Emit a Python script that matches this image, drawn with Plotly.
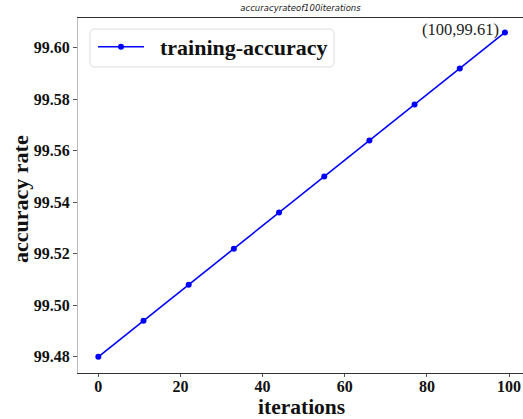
import plotly.graph_objects as go

# training accuracy sampled every 11 iterations
iterations = [0, 11, 22, 33, 44, 55, 66, 77, 88, 99]
accuracy = [99.480, 99.494, 99.508, 99.522, 99.536, 99.550, 99.564, 99.578, 99.592, 99.606]
y_ticks = [99.48, 99.50, 99.52, 99.54, 99.56, 99.58, 99.60]
x_ticks = [0, 20, 40, 60, 80, 100]

serif = "Liberation Serif, Times New Roman, serif"

W, H = 523, 419
ML, MR, MT, MB = 78, 0, 18, 46
PW, PH = W - ML - MR, H - MT - MB


def px_x(p):
    return (p - ML) / PW


def px_y(p):
    return (H - MB - p) / PH


fig = go.Figure()
fig.add_trace(go.Scatter(
    x=iterations, y=accuracy, mode="lines+markers",
    name="&nbsp;&nbsp;<b>training-accuracy</b>",
    line=dict(color="#0000ff", width=1.6),
    marker=dict(color="#0000ff", size=6),
))

last_x, last_y = iterations[-1], accuracy[-1]
fig.add_annotation(
    x=last_x, y=last_y, xref="x", yref="y",
    text="(100,99.61)", showarrow=False,
    xanchor="right", yanchor="middle", xshift=-4, yshift=3,
    font=dict(family=serif, size=16.5, color="#222222"),
)

# axis titles
fig.add_annotation(
    x=px_x(301), y=px_y(406.5), xref="paper", yref="paper",
    text="<b>iterations</b>", showarrow=False,
    xanchor="center", yanchor="middle",
    font=dict(family=serif, size=21.5, color="#111111"),
)
fig.add_annotation(
    x=px_x(20), y=px_y(199), xref="paper", yref="paper",
    text="<b>accuracy rate</b>", showarrow=False, textangle=-90,
    xanchor="center", yanchor="middle",
    font=dict(family=serif, size=22, color="#111111"),
)

# rounded legend frame
x0, x1 = px_x(90), px_x(334)
y0, y1 = px_y(67), px_y(29)
rx, ry = 5 / PW, 5 / PH
frame = (
    f"M {x0 + rx},{y0} L {x1 - rx},{y0} Q {x1},{y0} {x1},{y0 + ry} "
    f"L {x1},{y1 - ry} Q {x1},{y1} {x1 - rx},{y1} "
    f"L {x0 + rx},{y1} Q {x0},{y1} {x0},{y1 - ry} "
    f"L {x0},{y0 + ry} Q {x0},{y0} {x0 + rx},{y0} Z"
)
fig.add_shape(type="path", path=frame, xref="paper", yref="paper",
              line=dict(color="#dddddd", width=1), fillcolor="white", layer="below")

fig.update_layout(
    width=W, height=H,
    margin=dict(l=ML, r=MR, t=MT, b=MB),
    paper_bgcolor="white", plot_bgcolor="white",
    title=dict(
        text="accuracyrateof100iterations",
        x=0.5, xref="paper", xanchor="center",
        y=1 - 8 / H, yref="container", yanchor="middle",
        font=dict(family="DejaVu Sans, sans-serif", size=8.5, color="#222222", style="italic"),
    ),
    showlegend=True,
    legend=dict(
        x=px_x(93), y=px_y(26), xanchor="left", yanchor="top",
        bgcolor="rgba(0,0,0,0)", borderwidth=0,
        font=dict(family=serif, size=22, color="#111111"),
        itemwidth=46,
    ),
)

fig.update_xaxes(
    range=[-4.95, 103.4], tickvals=x_ticks,
    ticktext=[f"<b>{v}</b>" for v in x_ticks],
    tickfont=dict(family=serif, size=16, color="#111111"),
    showgrid=False, zeroline=False,
    showline=True, linecolor="#333333", linewidth=1.2, mirror=True,
    ticks="outside", ticklen=3, tickcolor="#555555",
    ticklabelstandoff=-4,
)
fig.update_yaxes(
    range=[99.4737, 99.6116], tickvals=y_ticks,
    ticktext=[f"<b>{v:.2f}</b>" for v in y_ticks],
    tickfont=dict(family=serif, size=16, color="#111111"),
    showgrid=False, zeroline=False,
    showline=True, linecolor="#bbbbbb", linewidth=1.2,
    ticks="outside", ticklen=4, tickcolor="#555555",
)

fig.write_html("out.html")
